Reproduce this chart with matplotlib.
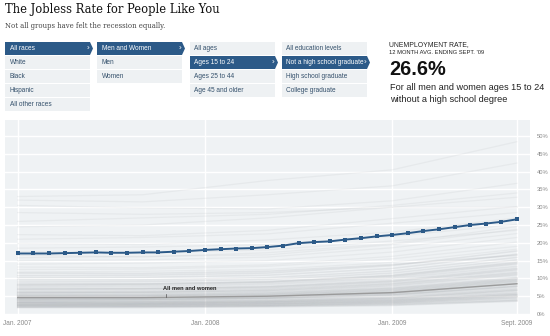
import matplotlib
matplotlib.use('Agg')
import matplotlib.pyplot as plt
from matplotlib.patches import Rectangle, Polygon

plt.rcParams['font.family'] = ['Liberation Sans', 'DejaVu Sans']

# ---------------- data ----------------
months = list(range(33))  # Jan. 2007 .. Sept. 2009, monthly
x_tick_pos = [0, 12, 24, 32]
x_tick_labels = ['Jan. 2007', 'Jan. 2008', 'Jan. 2009', 'Sept. 2009']
y_ticks = [0, 5, 10, 15, 20, 25, 30, 35, 40, 45, 50]

selected_rate = [17.0, 17.0, 17.0, 17.1, 17.2, 17.3, 17.2, 17.2, 17.3, 17.3,
                 17.5, 17.7, 18.0, 18.2, 18.4, 18.5, 18.8, 19.2, 19.9, 20.2,
                 20.4, 20.9, 21.3, 21.8, 22.2, 22.7, 23.3, 23.8, 24.4, 25.0,
                 25.4, 25.9, 26.6]

# other groups, sampled at Jan07, Sep07, May08, Jan09, Sep09
bg_months = [0, 8, 16, 24, 32]
all_men_women = [4.6, 4.6, 5.0, 6.0, 8.5]
bg_low = [
    [1.8, 1.8, 2.0, 2.4, 3.6], [2.0, 2.1, 2.3, 2.8, 4.0], [2.2, 2.2, 2.4, 3.0, 4.4],
    [2.4, 2.5, 2.7, 3.3, 4.9], [2.6, 2.6, 2.9, 3.6, 5.3], [2.8, 2.9, 3.2, 3.9, 5.6],
    [3.0, 3.1, 3.4, 4.2, 6.1], [3.2, 3.2, 3.5, 4.4, 6.5], [3.4, 3.5, 3.8, 4.7, 6.9],
    [3.6, 3.6, 4.0, 5.0, 7.2], [3.8, 3.9, 4.3, 5.3, 7.6], [4.0, 4.1, 4.5, 5.5, 7.9],
    [4.2, 4.2, 4.6, 5.8, 8.3], [4.4, 4.5, 4.9, 6.0, 8.7], [4.6, 4.6, 5.0, 6.2, 9.0],
    [4.9, 5.0, 5.4, 6.6, 9.4], [5.2, 5.2, 5.7, 7.0, 9.8], [5.5, 5.6, 6.1, 7.4, 10.3],
    [5.8, 5.9, 6.4, 7.8, 10.9], [6.1, 6.1, 6.6, 8.1, 11.2], [6.4, 6.5, 7.1, 8.6, 11.8],
    [6.8, 6.9, 7.4, 9.0, 12.3], [7.2, 7.2, 7.8, 9.5, 12.9], [7.6, 7.7, 8.3, 10.0, 13.4],
    [8.0, 8.1, 8.7, 10.4, 14.0], [8.5, 8.5, 9.1, 10.9, 14.6], [9.0, 9.1, 9.7, 11.5, 15.2],
    [9.6, 9.6, 10.2, 12.1, 15.9], [10.2, 10.3, 10.9, 12.8, 16.8], [10.8, 10.9, 11.5, 13.6, 17.7],
    [11.5, 11.4, 12.0, 13.9, 16.5], [3.1, 3.0, 3.3, 4.0, 5.8], [4.7, 4.8, 5.2, 6.4, 9.2],
    [2.5, 2.6, 2.8, 3.4, 5.0], [6.0, 6.2, 6.8, 8.4, 11.5], [5.0, 5.1, 5.5, 6.8, 9.6],
    [7.0, 7.1, 7.6, 9.2, 12.6], [8.2, 8.4, 9.0, 10.7, 14.3], [1.9, 2.0, 2.2, 2.6, 3.8],
    [2.3, 2.3, 2.5, 3.1, 4.6], [2.7, 2.8, 3.0, 3.7, 5.4], [3.3, 3.4, 3.7, 4.5, 6.7],
    [3.9, 4.0, 4.4, 5.4, 7.8], [4.3, 4.4, 4.8, 5.9, 8.5], [5.3, 5.4, 5.9, 7.2, 10.0],
]
bg_mid = [
    [12.5, 12.6, 13.4, 15.5, 19.0], [13.2, 13.0, 13.8, 16.2, 20.2], [14.0, 14.3, 15.0, 17.4, 21.5],
    [15.0, 15.2, 16.0, 18.6, 22.6], [15.8, 16.2, 16.6, 19.5, 23.8], [17.5, 17.2, 18.0, 20.5, 23.5],
    [18.5, 18.8, 19.5, 21.8, 25.2], [19.8, 19.5, 20.8, 23.0, 27.0], [21.0, 21.5, 22.5, 25.5, 28.5],
    [22.3, 22.0, 23.5, 26.8, 30.2], [11.8, 12.0, 12.5, 14.5, 18.2], [16.5, 16.0, 17.2, 19.8, 24.6],
]
bg_high = [
    [24.5, 25.0, 27.0, 30.0, 32.8], [28.5, 28.0, 28.5, 30.0, 30.0], [30.5, 29.8, 29.5, 31.8, 36.7],
    [32.0, 31.5, 33.5, 36.0, 42.4], [33.0, 33.5, 37.5, 40.5, 48.4], [26.0, 27.0, 28.0, 30.5, 34.0],
]

menu_races = ['All races', 'White', 'Black', 'Hispanic', 'All other races']
menu_sexes = ['Men and Women', 'Men', 'Women']
menu_ages = ['All ages', 'Ages 15 to 24', 'Ages 25 to 44', 'Age 45 and older']
menu_education = ['All education levels', 'Not a high school graduate',
                  'High school graduate', 'College graduate']
menu_selected = [0, 0, 1, 1]

headline_value = '26.6%'

# ---------------- figure ----------------
W, H = 550, 336
fig = plt.figure(figsize=(5.5, 3.36), dpi=100)
fig.patch.set_facecolor('white')
hdr = fig.add_axes([0, 0, 1, 1])
hdr.set_xlim(0, W)
hdr.set_ylim(H, 0)
hdr.axis('off')

renderer = fig.canvas.get_renderer()


def fit(t, width):
    w = t.get_window_extent(renderer).width
    t.set_fontsize(t.get_fontsize() * width / w)
    return t


DARK = '#2c5a88'
LIGHT = '#eef1f3'
MENU_TXT = '#34506b'

t = hdr.text(5, 9.5, 'The Jobless Rate for People Like You', family='DejaVu Serif',
             fontsize=10, color='#111111', va='center', ha='left')
fit(t, 215)
t = hdr.text(5, 26, 'Not all groups have felt the recession equally.', family='DejaVu Serif',
             fontsize=6, color='#444444', va='center', ha='left')
fit(t, 160)

col_x = [5, 97, 190, 282]
col_w = 85
for items, sel, x0 in zip([menu_races, menu_sexes, menu_ages, menu_education], menu_selected, col_x):
    for i, label in enumerate(items):
        top = 42 + 14 * i
        bot = top + 13
        mid = (top + bot) / 2
        if i == sel:
            hdr.add_patch(Polygon([(x0, top), (x0 + col_w, top), (x0 + col_w + 3, mid),
                                   (x0 + col_w, bot), (x0, bot)], closed=True,
                                  facecolor=DARK, edgecolor='none'))
            hdr.text(x0 + 4.5, mid + 0.3, label, fontsize=4.7, color='white', va='center', ha='left')
            hdr.text(x0 + col_w - 1, mid, '\u203a', fontsize=6, color='white', va='center', ha='right')
        else:
            hdr.add_patch(Rectangle((x0, top), col_w, 13, facecolor=LIGHT, edgecolor='none'))
            hdr.text(x0 + 4.5, mid + 0.3, label, fontsize=4.7, color=MENU_TXT, va='center', ha='left')

t = hdr.text(389, 44.7, 'UNEMPLOYMENT RATE,', fontsize=5, color='#222222', va='center', ha='left')
fit(t, 82)
t = hdr.text(389, 52.6, "12 MONTH AVG. ENDING SEPT. '09", fontsize=5, color='#222222', va='center', ha='left')
fit(t, 97)
t = hdr.text(389, 69.5, headline_value, fontsize=14, weight='bold', color='#111111', va='center', ha='left')
fit(t, 57)
t = hdr.text(390, 88, 'For all men and women ages 15 to 24', fontsize=6.6, color='#222222',
             va='center', ha='left')
fit(t, 154)
t = hdr.text(390, 99.5, 'without a high school degree', fontsize=t.get_fontsize(), color='#222222',
             va='center', ha='left')

# ---------------- chart ----------------
px_left, px_right, px_top, px_bot = 5, 530, 120, 314
ax = fig.add_axes([px_left / W, 1 - px_bot / H, (px_right - px_left) / W, (px_bot - px_top) / H])
ax.set_zorder(2)
ax.set_facecolor('#eff2f4')
m0_px, m_step = 17.7, 15.6
ax.set_xlim((px_left - m0_px) / m_step, (px_right - m0_px) / m_step)
ax.set_ylim(0, 54.5)

for s in ax.spines.values():
    s.set_visible(False)
ax.set_axisbelow(True)
ax.set_yticks(y_ticks)
ax.set_yticklabels([f'{v}%' for v in y_ticks])
ax.set_xticks(x_tick_pos)
ax.set_xticklabels(x_tick_labels)
ax.yaxis.tick_right()
ax.tick_params(axis='y', length=0, pad=5, labelsize=4.2, labelcolor='#888888')
ax.tick_params(axis='x', length=0, pad=4.5, labelsize=4.7, labelcolor='#888888')
ax.grid(True, color='white', lw=1.0)

for series in bg_high + bg_mid:
    ax.plot(bg_months, series, color='#8d9297', alpha=0.09, lw=0.9, solid_joinstyle='round')
for series in bg_low:
    ax.plot(bg_months, series, color='#8d9297', alpha=0.15, lw=1.1, solid_joinstyle='round')

ax.plot(bg_months, all_men_women, color='#959595', lw=1.0, alpha=0.9)

ax.plot(months, selected_rate, color=DARK, lw=1.4, marker='s', markersize=2.2,
        markeredgewidth=0, zorder=5)

ax.text(9.3, 7.3, 'All men and women', fontsize=4.1, weight='bold', color='#222222',
        va='center', ha='left', zorder=6)
ax.plot([9.5, 9.5], [4.9, 5.6], color='#555555', lw=0.5, zorder=6)

fig.savefig('out.png', dpi=100, facecolor='white')
